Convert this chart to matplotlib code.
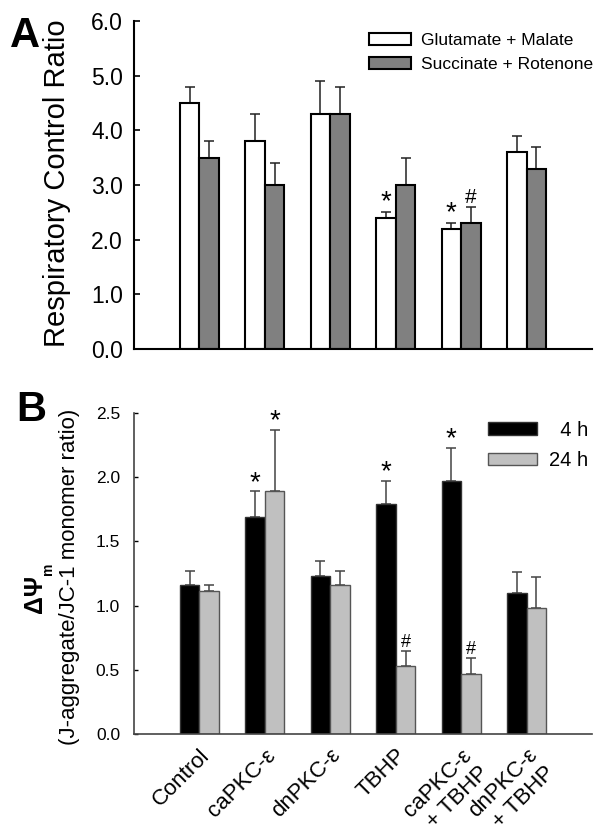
import matplotlib
matplotlib.use("Agg")
import matplotlib.pyplot as plt
import numpy as np
from matplotlib.patches import Patch

plt.rcParams['font.family'] = ['Liberation Sans', 'DejaVu Sans']

# ---------------- data ----------------
groups = ["Control", "caPKC-ε", "dnPKC-ε", "TBHP", "caPKC-ε\n+ TBHP", "dnPKC-ε\n+ TBHP"]

rcr_glu = [4.5, 3.8, 4.3, 2.4, 2.2, 3.6]
rcr_glu_err = [0.3, 0.5, 0.6, 0.1, 0.1, 0.3]
rcr_suc = [3.5, 3.0, 4.3, 3.0, 2.3, 3.3]
rcr_suc_err = [0.3, 0.4, 0.5, 0.5, 0.3, 0.4]
sig_glu = ["", "", "", "*", "*", ""]
sig_suc = ["", "", "", "", "#", ""]

dpsi_4h = [1.16, 1.69, 1.23, 1.79, 1.97, 1.10]
dpsi_4h_err = [0.11, 0.20, 0.12, 0.18, 0.26, 0.16]
dpsi_24h = [1.11, 1.89, 1.16, 0.53, 0.47, 0.98]
dpsi_24h_err = [0.05, 0.48, 0.11, 0.12, 0.12, 0.24]
sig_4h = ["", "*", "", "*", "*", ""]
sig_24h = ["", "*", "", "#", "#", ""]

W, H = 600, 840
fig = plt.figure(figsize=(6, 8.4), dpi=100)

def px_axes(l, t, r, b):
    return fig.add_axes([l / W, 1 - b / H, (r - l) / W, (b - t) / H])

x = np.arange(1, len(groups) + 1)
bw = 0.3

# ---------------- Panel A ----------------
axA = px_axes(134, 21, 592, 349)
axA.bar(x - bw / 2, rcr_glu, bw, color="white", edgecolor="black", linewidth=1.5, zorder=2)
axA.bar(x + bw / 2, rcr_suc, bw, color="#808080", edgecolor="black", linewidth=1.5, zorder=2)
axA.errorbar(x - bw / 2, rcr_glu, yerr=[np.zeros(6), rcr_glu_err], fmt="none",
             ecolor="#222222", elinewidth=1.1, capsize=3.5, capthick=1.1, zorder=1)
axA.errorbar(x + bw / 2, rcr_suc, yerr=[np.zeros(6), rcr_suc_err], fmt="none",
             ecolor="#222222", elinewidth=1.1, capsize=3.5, capthick=1.1, zorder=1)
for xi, v, e, s in zip(x - bw / 2, rcr_glu, rcr_glu_err, sig_glu):
    if s:
        axA.text(xi, v + e - 0.05, s, ha="center", va="bottom", fontsize=20)
for xi, v, e, s in zip(x + bw / 2, rcr_suc, rcr_suc_err, sig_suc):
    if s:
        axA.text(xi, v + e - 0.01, s, ha="center", va="bottom", fontsize=15)
axA.set_xlim(0, 7)
axA.set_ylim(0, 6)
ytA = np.arange(0, 6.01, 1.0)
axA.set_yticks(ytA)
axA.set_yticklabels([f"{t:.1f}" for t in ytA], fontsize=16.5)
axA.set_xticks([])
axA.tick_params(axis="y", direction="in", length=4, width=1.2, pad=8)
for sp in ["top", "right"]:
    axA.spines[sp].set_visible(False)
for sp in ["left", "bottom"]:
    axA.spines[sp].set_linewidth(1.5)
fig.text(57 / W, 1 - 183 / H, "Respiratory Control Ratio", rotation=90,
         ha="center", va="center", fontsize=21)
axA.legend(handles=[Patch(facecolor="white", edgecolor="black", linewidth=1.5, label="Glutamate + Malate"),
                    Patch(facecolor="#808080", edgecolor="black", linewidth=1.5, label="Succinate + Rotenone")],
           loc="upper right", bbox_to_anchor=(1.03, 1.0), frameon=False, fontsize=12.5,
           handlelength=2.4, handleheight=0.7, handletextpad=0.6, labelspacing=0.5,
           borderaxespad=0.3)

# ---------------- Panel B ----------------
axB = px_axes(134, 413, 592, 734)
axB.bar(x - bw / 2, dpsi_4h, bw, color="black", edgecolor="#333333", linewidth=1.0, zorder=2)
axB.bar(x + bw / 2, dpsi_24h, bw, color="#c0c0c0", edgecolor="#555555", linewidth=1.0, zorder=2)
axB.errorbar(x - bw / 2, dpsi_4h, yerr=[np.zeros(6), dpsi_4h_err], fmt="none",
             ecolor="#444444", elinewidth=1.1, capsize=3.5, capthick=1.1, zorder=1)
axB.errorbar(x + bw / 2, dpsi_24h, yerr=[np.zeros(6), dpsi_24h_err], fmt="none",
             ecolor="#444444", elinewidth=1.1, capsize=3.5, capthick=1.1, zorder=1)
for xi, v, e, s in zip(x - bw / 2, dpsi_4h, dpsi_4h_err, sig_4h):
    if s:
        axB.text(xi, v + e - 0.035, s, ha="center", va="bottom", fontsize=20)
for xi, v, e, s in zip(x + bw / 2, dpsi_24h, dpsi_24h_err, sig_24h):
    if s:
        if s == "*":
            axB.text(xi, v + e - 0.035, s, ha="center", va="bottom", fontsize=20)
        else:
            axB.text(xi, v + e + 0.0, s, ha="center", va="bottom", fontsize=13)
axB.set_xlim(0, 7)
axB.set_ylim(0, 2.5)
ytB = np.arange(0, 2.51, 0.5)
axB.set_yticks(ytB)
axB.set_yticklabels([f"{t:.1f}" for t in ytB], fontsize=12.5)
axB.set_xticks(x)
axB.set_xticklabels(groups, rotation=45, ha="right", rotation_mode="anchor",
                    multialignment="right", fontsize=16)
axB.tick_params(axis="x", length=0, pad=8)
axB.tick_params(axis="y", direction="in", length=3, width=1.0, pad=10)
for sp in ["top", "right"]:
    axB.spines[sp].set_visible(False)
for sp in ["left", "bottom"]:
    axB.spines[sp].set_linewidth(1.2)
    axB.spines[sp].set_color("#444444")
axB.legend(handles=[Patch(facecolor="black", edgecolor="#333333", label="  4 h"),
                    Patch(facecolor="#c0c0c0", edgecolor="#555555", label="24 h")],
           loc="upper right", bbox_to_anchor=(1.022, 1.02), frameon=False, fontsize=14.5,
           handlelength=2.4, handleheight=0.55, handletextpad=0.6, labelspacing=0.55,
           borderaxespad=0.3)

# y label for B (two parts)
fig.text(70 / W, 1 - 577 / H, "(J-aggregate/JC-1 monomer ratio)", rotation=90,
         ha="center", va="center", fontsize=16)
fig.text(35 / W, 1 - 594 / H, "ΔΨ", rotation=90, ha="center", va="center",
         fontsize=18, fontweight="bold")
fig.text(48 / W, 1 - 569 / H, "m", rotation=90, ha="center", va="center",
         fontsize=10, fontweight="bold")

# panel letters
fig.text(25 / W, 1 - 36 / H, "A", ha="center", va="center", fontsize=30, fontweight="bold")
fig.text(31 / W, 1 - 410 / H, "B", ha="center", va="center", fontsize=30, fontweight="bold")

fig.savefig("out.png", dpi=100)
